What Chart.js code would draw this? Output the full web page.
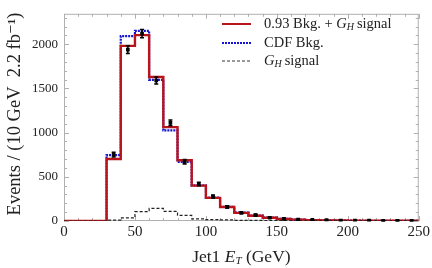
<!DOCTYPE html>
<html><head><meta charset="utf-8">
<script src="https://cdn.jsdelivr.net/npm/chart.js@4"></script>
<style>html,body{margin:0;padding:0;background:#fff}#w{width:432px;height:268px}</style>
</head><body><div id="w"><canvas id="c"></canvas></div>
<script>
// bin edges (GeV), 10 GeV bins from 0 to 250
const binEdges = [0,10,20,30,40,50,60,70,80,90,100,110,120,130,140,150,160,170,180,190,200,210,220,230,240,250];
// 0.93 Bkg. + G_H signal (per bin)
const fitValues = [0,0,0,702,1982,2104,1630,1062,688,400,262,158,92,60,36,23,15,10,7,5,4,3,3,3,3];
// CDF Bkg. (per bin)
const cdfValues = [0,0,0,746,2092,2152,1598,1026,668,404,266,160,94,62,38,24,16,10,7,5,4,3,3,3,3];
// G_H signal (per bin)
const sigValues = [0,0,0,10,35,106,142,110,64,24,16,12,8,6,5,4,3,2,2,1,1,1,1,1,1];
// data points: bin centres, counts, errors
const dataX = [35,45,55,65,75,85,95,105,115,125,135,145,155,165,175,185,195,205,215,225,235,245];
const dataY = [750,1940,2120,1590,1110,670,419,277,160,93,67,37,25,15,12,10,6,4,4,3,3,3];
const dataErr = [27,44,46,40,33,26,20,17,13,10,8,6,5,4,3,3,2,2,2,2,2,2];
const xTicks = [0,50,100,150,200,250];
const yTicks = [0,500,1000,1500,2000];
const legendLabels = ['0.93 Bkg. + ', 'CDF Bkg.', ''];

function stepData(vals){
  const pts = vals.map((v,i)=>({x:binEdges[i], y:v}));
  pts.push({x:binEdges[binEdges.length-1], y:vals[vals.length-1]});
  return pts;
}
const SERIF = '"Liberation Serif", "DejaVu Serif", serif';
const RED = 'rgb(185,20,25)', BLUE = 'rgb(20,20,210)';

const framePlugin = {
  id:'frame',
  beforeDatasetsDraw(chart){
    const {ctx, chartArea:a, scales:{x,y}} = chart;
    ctx.save();
    ctx.strokeStyle = '#b0b0b0'; ctx.lineWidth = 1;
    ctx.strokeRect(a.left+0.5, a.top+0.5, a.right-a.left-1, a.bottom-a.top-1);
    ctx.beginPath();
    for(let v=0; v<=250; v+=10){
      const px = Math.round(x.getPixelForValue(v))+0.5;
      const L = v%50===0 ? 5 : 3;
      ctx.moveTo(px,a.bottom); ctx.lineTo(px,a.bottom-L);
      ctx.moveTo(px,a.top); ctx.lineTo(px,a.top+L);
    }
    for(let v=0; v<=y.max; v+=100){
      const py = Math.round(y.getPixelForValue(v))+0.5;
      const L = v%500===0 ? 5 : 3;
      ctx.moveTo(a.left,py); ctx.lineTo(a.left+L,py);
      ctx.moveTo(a.right,py); ctx.lineTo(a.right-L,py);
    }
    ctx.stroke();
    ctx.restore();
  },
  afterDatasetsDraw(chart){
    const {ctx, scales:{x,y}} = chart;
    ctx.save();
    ctx.strokeStyle = '#000'; ctx.lineWidth = 1.5;
    ctx.beginPath();
    dataX.forEach((xv,i)=>{
      const px = x.getPixelForValue(xv);
      const y1 = y.getPixelForValue(dataY[i]-dataErr[i]);
      const y2 = y.getPixelForValue(dataY[i]+dataErr[i]);
      ctx.moveTo(px,y1); ctx.lineTo(px,y2);
      ctx.moveTo(px-2,y1); ctx.lineTo(px+2,y1);
      ctx.moveTo(px-2,y2); ctx.lineTo(px+2,y2);
    });
    ctx.stroke();
    ctx.restore();
  },
  afterDraw(chart){
    const {ctx, chartArea:a} = chart;
    ctx.save();
    ctx.fillStyle = '#222';
    // legend
    const lx0 = 222, lx1 = 251, tx = 264;
    const rows = [24, 43, 61];
    ctx.lineWidth = 2; ctx.strokeStyle = RED; ctx.setLineDash([]);
    ctx.beginPath(); ctx.moveTo(lx0,rows[0]); ctx.lineTo(lx1,rows[0]); ctx.stroke();
    ctx.strokeStyle = BLUE; ctx.setLineDash([2,1]);
    ctx.beginPath(); ctx.moveTo(lx0,rows[1]); ctx.lineTo(lx1,rows[1]); ctx.stroke();
    ctx.strokeStyle = '#333'; ctx.lineWidth = 1; ctx.setLineDash([3,2]);
    ctx.beginPath(); ctx.moveTo(lx0,rows[2]); ctx.lineTo(lx1,rows[2]); ctx.stroke();
    ctx.setLineDash([]);
    ctx.textBaseline = 'middle'; ctx.textAlign = 'left';
    const LF = 14.5;
    function gh(xx, yy){
      ctx.font = 'italic '+LF+'px '+SERIF; ctx.fillText('G', xx, yy);
      xx += ctx.measureText('G').width;
      ctx.font = 'italic 10px '+SERIF; ctx.fillText('H', xx, yy+3);
      xx += ctx.measureText('H').width + 1;
      return xx;
    }
    ctx.font = LF+'px '+SERIF;
    let xx = tx;
    ctx.fillText(legendLabels[0], xx, rows[0]); xx += ctx.measureText(legendLabels[0]).width;
    xx = gh(xx, rows[0]); ctx.font = LF+'px '+SERIF; ctx.fillText('signal', xx+2, rows[0]);
    ctx.fillText(legendLabels[1], tx, rows[1]);
    xx = gh(tx, rows[2]); ctx.font = LF+'px '+SERIF; ctx.fillText('signal', xx+2, rows[2]);
    // x title
    const XF = 17.5;
    const p1 = 'Jet1 ', p3 = ' (GeV)';
    ctx.font = XF+'px '+SERIF; const w1 = ctx.measureText(p1).width, w3 = ctx.measureText(p3).width;
    ctx.font = 'italic '+XF+'px '+SERIF; const wE = ctx.measureText('E').width;
    ctx.font = 'italic 11px '+SERIF; const wT = ctx.measureText('T').width;
    let sx = (a.left+a.right)/2 - (w1+wE+wT+w3)/2;
    const ty = 257;
    ctx.font = XF+'px '+SERIF; ctx.fillText(p1, sx, ty); sx += w1;
    ctx.font = 'italic '+XF+'px '+SERIF; ctx.fillText('E', sx, ty); sx += wE;
    ctx.font = 'italic 11px '+SERIF; ctx.fillText('T', sx, ty+4); sx += wT;
    ctx.font = XF+'px '+SERIF; ctx.fillText(p3, sx, ty);
    // y title
    ctx.translate(15, 114);
    ctx.rotate(-Math.PI/2);
    ctx.textAlign = 'center';
    ctx.font = '18.5px '+SERIF;
    ctx.fillText('Events / (10 GeV  2.2 fb\u207B\u00B9)', 0, 0);
    ctx.restore();
  }
};

new Chart(document.getElementById('c'), {
  type:'line',
  data:{datasets:[
    {label:'data', type:'scatter', data:dataX.map((v,i)=>({x:v,y:dataY[i]})), pointStyle:'rect', pointRadius:2.6, backgroundColor:'#000', borderColor:'#000', borderWidth:0, order:0},
    {label:'signal', data:stepData(sigValues), stepped:'before', borderColor:'#222', borderWidth:1.2, borderDash:[3,2], pointRadius:0, fill:false, order:1},
    {label:'fit', data:stepData(fitValues), stepped:'before', borderColor:RED, borderWidth:2.4, pointRadius:0, fill:false, order:2},
    {label:'cdf', data:stepData(cdfValues), stepped:'before', borderColor:BLUE, borderWidth:2.2, borderDash:[2,1], pointRadius:0, fill:false, order:3}
  ]},
  options:{
    responsive:true, maintainAspectRatio:false, animation:false,
    layout:{padding:{top:1, right:12, left:0, bottom:0}},
    plugins:{legend:{display:false}, tooltip:{enabled:false}},
    scales:{
      x:{type:'linear', min:0, max:250,
        afterBuildTicks(s){ s.ticks = xTicks.map(v=>({value:v})); },
        afterFit(s){ s.height = 47; },
        grid:{display:false, drawTicks:false}, border:{display:false},
        ticks:{padding:2, color:'#222', font:{family:SERIF, size:15}, maxRotation:0, callback:v=>String(v)}},
      y:{type:'linear', min:0, max:2345,
        afterBuildTicks(s){ s.ticks = yTicks.map(v=>({value:v})); },
        afterFit(s){ s.width = 64; },
        grid:{display:false, drawTicks:false}, border:{display:false},
        ticks:{padding:6, color:'#222', font:{family:SERIF, size:13}, callback:v=>String(v)}}
    }
  },
  plugins:[framePlugin]
});
</script></body></html>
